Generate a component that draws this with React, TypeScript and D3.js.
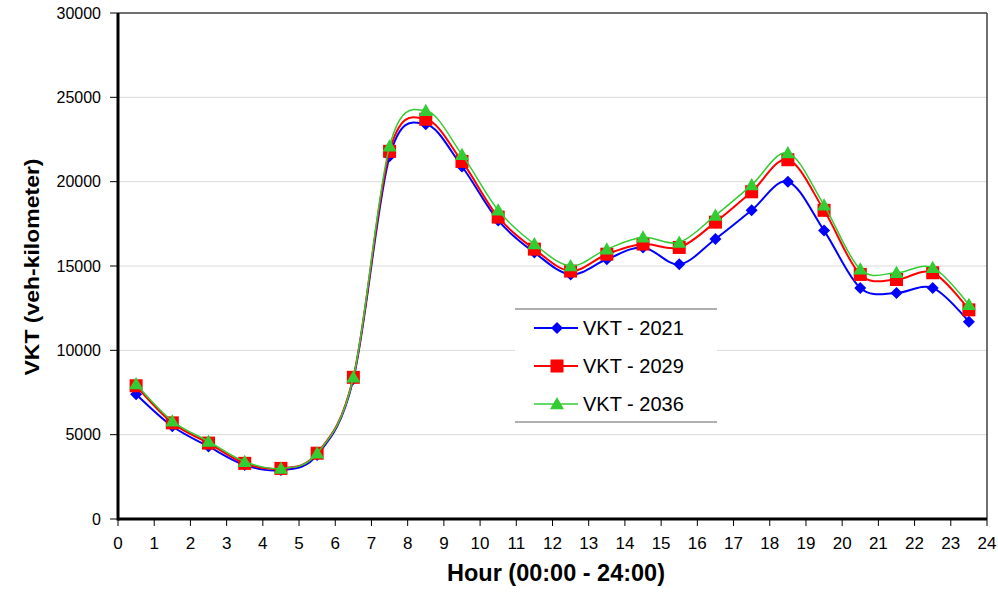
import React from "react";
import * as d3 from "d3";

const hours = [0.5, 1.5, 2.5, 3.5, 4.5, 5.5, 6.5, 7.5, 8.5, 9.5, 10.5, 11.5, 12.5, 13.5, 14.5, 15.5, 16.5, 17.5, 18.5, 19.5, 20.5, 21.5, 22.5, 23.5];
const vkt2021 = [7400, 5500, 4300, 3200, 2900, 3800, 8300, 21500, 23400, 20900, 17700, 15800, 14500, 15400, 16100, 15100, 16600, 18300, 20000, 17100, 13700, 13400, 13700, 11700];
const vkt2029 = [7900, 5700, 4500, 3300, 3000, 3900, 8400, 21800, 23700, 21200, 17900, 16000, 14700, 15700, 16300, 16100, 17600, 19400, 21300, 18300, 14500, 14200, 14600, 12400];
const vkt2036 = [8000, 5800, 4600, 3400, 3000, 3900, 8400, 22100, 24200, 21600, 18300, 16300, 15000, 16000, 16700, 16400, 18000, 19800, 21700, 18600, 14800, 14600, 14900, 12700];
const seriesNames = ["VKT - 2021", "VKT - 2029", "VKT - 2036"];
const xTicks = d3.range(0, 25);
const yTicks = [0, 5000, 10000, 15000, 20000, 25000, 30000];

const W = 998, H = 593;
const L = 118, R = 987, T = 13, B = 519;

export default function App() {
  const x = d3.scaleLinear().domain([0, 24]).range([L, R]);
  const y = d3.scaleLinear().domain([0, 30000]).range([B, T]);
  const line = d3.line<number>().x((_, i) => x(hours[i])).y((d) => y(d)).curve(d3.curveCatmullRom.alpha(0));

  const series = [
    { name: seriesNames[0], data: vkt2021, color: "#0000ff", width: 2, marker: "diamond" },
    { name: seriesNames[1], data: vkt2029, color: "#ff0000", width: 2, marker: "square" },
    { name: seriesNames[2], data: vkt2036, color: "#33cc33", width: 1.5, marker: "triangle" },
  ];

  const marker = (type: string, cx: number, cy: number, color: string, key: any) => {
    if (type === "diamond") {
      const s = 6;
      return <path key={key} d={`M${cx},${cy - s}L${cx + s},${cy}L${cx},${cy + s}L${cx - s},${cy}Z`} fill={color} />;
    }
    if (type === "square") {
      const s = 6.5;
      return <rect key={key} x={cx - s} y={cy - s} width={2 * s} height={2 * s} fill={color} />;
    }
    const s = 7;
    return <path key={key} d={`M${cx},${cy - s}L${cx + s},${cy + s * 0.75}L${cx - s},${cy + s * 0.75}Z`} fill={color} />;
  };

  const font = "Arial, 'Liberation Sans', sans-serif";

  const legX = 515, legW = 202, legTop = 309, legBot = 422;
  const legRows = [328, 366, 404];

  return (
    <svg width={W} height={H} style={{ position: "absolute", left: 0, top: 0, background: "#fff" }}>
      <rect x={0} y={0} width={W} height={H} fill="#fff" />
      {yTicks.filter((t) => t > 0 && t < 30000).map((t) => (
        <line key={t} x1={L} x2={R} y1={y(t)} y2={y(t)} stroke="#d9d9d9" strokeWidth={1} />
      ))}
      <line x1={L} x2={R} y1={T} y2={T} stroke="#404040" strokeWidth={1.5} />
      <line x1={R} x2={R} y1={T} y2={B} stroke="#404040" strokeWidth={1.5} />
      {yTicks.map((t) => (
        <g key={t}>
          <line x1={L - 8} x2={L} y1={y(t)} y2={y(t)} stroke="#000" strokeWidth={1} />
          <text x={101} y={y(t)} dy="0.35em" textAnchor="end" fontFamily={font} fontSize={16} fill="#000">{t}</text>
        </g>
      ))}
      {xTicks.map((t) => (
        <g key={t}>
          <line x1={x(t)} x2={x(t)} y1={B} y2={B + 7} stroke="#000" strokeWidth={1} />
          <text x={x(t)} y={549} textAnchor="middle" fontFamily={font} fontSize={17} fill="#000">{t}</text>
        </g>
      ))}
      <line x1={L} x2={R} y1={B} y2={B} stroke="#000" strokeWidth={3} />
      <line x1={L} x2={L} y1={T} y2={B + 1.5} stroke="#000" strokeWidth={3} />

      {series.map((s) => (
        <g key={s.name}>
          <path d={line(s.data) || ""} fill="none" stroke={s.color} strokeWidth={s.width} />
          {s.data.map((v, i) => marker(s.marker, x(hours[i]), y(v), s.color, i))}
        </g>
      ))}

      <rect x={legX} y={legTop} width={legW} height={legBot - legTop} fill="#fff" />
      <line x1={legX} x2={legX + legW} y1={legTop} y2={legTop} stroke="#606060" strokeWidth={1} />
      <line x1={legX} x2={legX + legW} y1={legBot} y2={legBot} stroke="#606060" strokeWidth={1} />
      {series.map((s, i) => (
        <g key={s.name}>
          <line x1={534} x2={578} y1={legRows[i]} y2={legRows[i]} stroke={s.color} strokeWidth={s.width} />
          {marker(s.marker, 557, legRows[i], s.color, "m")}
          <text x={583} y={legRows[i]} dy="0.36em" fontFamily={font} fontSize={20} fill="#000">{s.name}</text>
        </g>
      ))}

      <text transform={`translate(39,267) rotate(-90)`} textAnchor="middle" fontFamily={font} fontWeight="bold" fontSize={21} textLength={217} lengthAdjust="spacingAndGlyphs" fill="#000">VKT (veh-kilometer)</text>
      <text x={556} y={581} textAnchor="middle" fontFamily={font} fontWeight="bold" fontSize={23} textLength={218} lengthAdjust="spacingAndGlyphs" fill="#000">Hour (00:00 - 24:00)</text>
    </svg>
  );
}
